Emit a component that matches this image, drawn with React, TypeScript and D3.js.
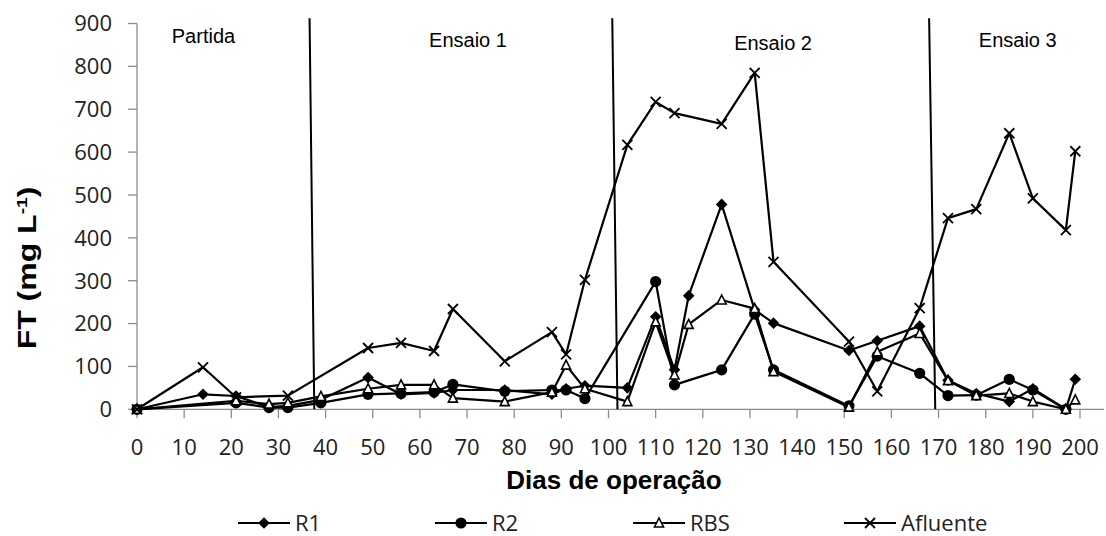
import React from "react";
import * as d3 from "d3";

// Dias de operação e FT (mg/L) por série
const r1Days = [0, 14, 21, 28, 32, 39, 49, 56, 63, 67, 78, 88, 91, 95, 104, 110, 114, 117, 124, 131, 135, 151, 157, 166, 172, 178, 185, 190, 197, 199];
const r1Values = [0, 35, 31, 5, 8, 22, 74, 35, 38, 45, 45, 35, 48, 55, 50, 216, 92, 265, 478, 232, 201, 137, 160, 194, 68, 37, 18, 48, 0, 70];

const r2Days = [0, 21, 28, 32, 39, 49, 56, 63, 67, 78, 88, 91, 95, 110, 114, 124, 131, 135, 151, 157, 166, 172, 178, 185, 190, 197];
const r2Values = [0, 15, 4, 4, 15, 35, 37, 40, 58, 42, 45, 45, 25, 298, 57, 92, 222, 92, 8, 124, 84, 32, 33, 70, 45, 0];

const rbsDays = [0, 21, 28, 32, 39, 49, 56, 63, 67, 78, 88, 91, 95, 104, 110, 114, 117, 124, 131, 135, 151, 157, 166, 172, 178, 185, 190, 197, 199];
const rbsValues = [0, 20, 12, 15, 30, 48, 57, 57, 26, 18, 40, 103, 48, 18, 204, 80, 198, 255, 235, 88, 5, 134, 177, 67, 32, 37, 18, 0, 22];

const afluenteDays = [0, 14, 21, 32, 49, 56, 63, 67, 78, 88, 91, 95, 104, 110, 114, 124, 131, 135, 151, 157, 166, 172, 178, 185, 190, 197, 199];
const afluenteValues = [0, 98, 28, 32, 143, 155, 136, 234, 112, 180, 128, 302, 617, 717, 691, 666, 785, 344, 158, 42, 236, 446, 467, 644, 492, 418, 602];

// Divisões entre as fases (dia no topo, dia na base) e nomes das fases
const phaseTopDays = [36.6, 100.8, 168.0];
const phaseBottomDays = [37.6, 101.9, 169.3];
const phaseTopValue = 912;
const phaseNames = ["Partida", "Ensaio 1", "Ensaio 2", "Ensaio 3"];
const phaseLabelDays = [14.1, 70.2, 134.9, 186.8];

const xTicks = d3.range(0, 201, 10);
const yTicks = d3.range(0, 901, 100);

type MarkerKind = "diamond" | "circle" | "triangle" | "cross";

const seriesList: { name: string; days: number[]; values: number[]; marker: MarkerKind }[] = [
  { name: "R1", days: r1Days, values: r1Values, marker: "diamond" },
  { name: "R2", days: r2Days, values: r2Values, marker: "circle" },
  { name: "RBS", days: rbsDays, values: rbsValues, marker: "triangle" },
  { name: "Afluente", days: afluenteDays, values: afluenteValues, marker: "cross" },
];

const W = 1106;
const H = 536;
const x = d3.scaleLinear().domain([0, 200]).range([137, 1080]);
const y = d3.scaleLinear().domain([0, 900]).range([409.3, 23.5]);

const tickFont = "'Open Sans', 'Noto Sans', sans-serif";
const titleFont = "'Liberation Sans', Arial, sans-serif";
const axisColor = "#8c8c8c";

function Marker({ kind, cx, cy }: { kind: MarkerKind; cx: number; cy: number }) {
  if (kind === "diamond") {
    const r = 5.8;
    return (
      <path
        d={`M${cx},${cy - r}L${cx + r},${cy}L${cx},${cy + r}L${cx - r},${cy}Z`}
        fill="#000"
      />
    );
  }
  if (kind === "circle") {
    return <circle cx={cx} cy={cy} r={5.6} fill="#000" />;
  }
  if (kind === "triangle") {
    const h = 8;
    const w = 9;
    const d = `M${cx},${cy - h / 2 - 1}L${cx + w / 2},${cy + h / 2}L${cx - w / 2},${cy + h / 2}Z`;
    return <path d={d} fill="#fff" stroke="#000" strokeWidth={1.6} />;
  }
  const r = 5;
  return (
    <path
      d={`M${cx - r},${cy - r}L${cx + r},${cy + r}M${cx - r},${cy + r}L${cx + r},${cy - r}`}
      stroke="#000"
      strokeWidth={1.8}
      fill="none"
    />
  );
}

export default function App() {
  const line = d3
    .line<[number, number]>()
    .x((d) => x(d[0]))
    .y((d) => y(d[1]));

  const legendItems = [
    { kind: "diamond" as MarkerKind, label: "R1", x0: 238 },
    { kind: "circle" as MarkerKind, label: "R2", x0: 435 },
    { kind: "triangle" as MarkerKind, label: "RBS", x0: 633 },
    { kind: "cross" as MarkerKind, label: "Afluente", x0: 844 },
  ];
  const legendY = 523;
  const phaseLabelBaselines = [43, 47, 50, 47];

  return (
    <svg
      width={W}
      height={H}
      style={{ position: "absolute", left: 0, top: 0, background: "#fff" }}
    >
      <rect width={W} height={H} fill="#fff" />

      {/* eixo Y */}
      <line x1={x(0)} x2={x(0)} y1={y(900)} y2={y(0)} stroke={axisColor} strokeWidth={1.3} />
      {yTicks.map((t) => (
        <g key={`y${t}`}>
          <line x1={x(0) - 9} x2={x(0)} y1={y(t)} y2={y(t)} stroke={axisColor} strokeWidth={1.3} />
          <text
            x={112}
            y={y(t)}
            dy="0.36em"
            textAnchor="end"
            fontFamily={tickFont}
            fontSize={22}
            fill="#222"
          >
            {t}
          </text>
        </g>
      ))}

      {/* eixo X */}
      <line x1={x(0)} x2={1104} y1={y(0)} y2={y(0)} stroke={axisColor} strokeWidth={1.3} />
      {xTicks.map((t) => (
        <g key={`x${t}`}>
          <line x1={x(t)} x2={x(t)} y1={y(0)} y2={y(0) + 9} stroke={axisColor} strokeWidth={1.3} />
          <text
            x={x(t)}
            y={455}
            textAnchor="middle"
            fontFamily={tickFont}
            fontSize={22}
            fill="#222"
          >
            {t}
          </text>
        </g>
      ))}

      {/* títulos dos eixos */}
      <text
        x={614}
        y={489}
        textAnchor="middle"
        fontFamily={titleFont}
        fontWeight="bold"
        fontSize={26}
        fill="#000"
      >
        Dias de operação
      </text>
      <text
        transform="translate(36,268) rotate(-90) scale(1.28,1)"
        textAnchor="middle"
        fontFamily={titleFont}
        fontWeight="bold"
        fontSize={25}
        fill="#000"
      >
        FT (mg L<tspan dy={-9} fontSize={15}>-1</tspan>
        <tspan dy={9}>)</tspan>
      </text>

      {/* divisões das fases */}
      {phaseTopDays.map((d, i) => (
        <line
          key={`ph${i}`}
          x1={x(d)}
          y1={y(phaseTopValue)}
          x2={x(phaseBottomDays[i])}
          y2={y(0)}
          stroke="#000"
          strokeWidth={2}
        />
      ))}
      {phaseNames.map((n, i) => (
        <text
          key={n}
          x={x(phaseLabelDays[i])}
          y={phaseLabelBaselines[i]}
          textAnchor="middle"
          fontFamily={titleFont}
          fontSize={20}
          fill="#000"
        >
          {n}
        </text>
      ))}

      {/* séries */}
      {seriesList.map((s) => {
        const pts = s.days.map((d, i) => [d, s.values[i]] as [number, number]);
        return (
          <g key={s.name}>
            <path d={line(pts) as string} fill="none" stroke="#000" strokeWidth={2.2} strokeLinejoin="round" />
            {pts.map((p, i) => (
              <Marker key={i} kind={s.marker} cx={x(p[0])} cy={y(p[1])} />
            ))}
          </g>
        );
      })}

      {/* legenda */}
      {legendItems.map((it) => (
        <g key={it.label}>
          <line x1={it.x0} x2={it.x0 + 52} y1={legendY} y2={legendY} stroke="#000" strokeWidth={2.2} />
          <Marker kind={it.kind} cx={it.x0 + 26} cy={legendY} />
          <text
            x={it.x0 + 57}
            y={legendY}
            dy="0.36em"
            fontFamily={tickFont}
            fontSize={22}
            fill="#222"
          >
            {it.label}
          </text>
        </g>
      ))}
    </svg>
  );
}
